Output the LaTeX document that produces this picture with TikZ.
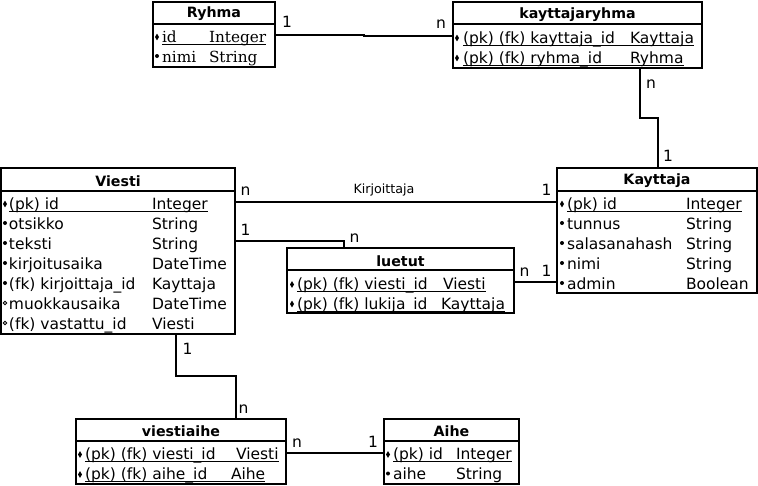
\documentclass[tikz,border=0pt]{standalone}
\usepackage{fontspec}
\setmainfont{DejaVu Sans}
\newfontfamily\rowserif{DejaVu Serif}
\begin{document}
\begin{tikzpicture}[x=1pt,y=-1pt,
  every node/.style={inner sep=0pt,outer sep=0pt},
  ebox/.style={draw,line width=2pt,anchor=north west},
  sep/.style={line width=2pt},
  conn/.style={line width=2pt},
  ul/.style={line width=1pt},
  txt/.style={anchor=base west,font=\fontsize{15.5}{18}\selectfont},
  stxt/.style={anchor=base west,font=\rowserif\fontsize{15.3}{18}\selectfont},
  ttl/.style={anchor=center,font=\bfseries\fontsize{14.2}{16}\selectfont},
  lbl/.style={anchor=center,font=\fontsize{15.5}{18}\selectfont},
  slbl/.style={anchor=center,font=\fontsize{12.7}{15}\selectfont}]
\useasboundingbox (0,0) rectangle (758,485);

\newcommand\mkpk[2]{\fill (#1,#2-5) +(0,-3.4) -- +(2,0) -- +(0,3.4) -- +(-2,0) -- cycle;}
\newcommand\mkdot[2]{\fill (#1,#2-6) circle (2pt);}
\newcommand\mkopen[2]{\draw[line width=0.8pt] (#1,#2-6) circle (1.8pt);}
% id, marker, markx, baseline, namex, name, typex, type
\newcommand\fld[8]{%
  \node[txt] (#1n) at (#5,#4) {#6};
  \node[txt] (#1t) at (#7,#4) {#8};
  #2{#3}{#4}}
\newcommand\sfld[8]{%
  \node[stxt] (#1n) at (#5,#4) {#6};
  \node[stxt] (#1t) at (#7,#4) {#8};
  #2{#3}{#4}}
\newcommand\ulf[1]{\draw[ul] ([yshift=-2pt]#1n.base west) -- ([yshift=-2pt]#1t.base east);}

% Ryhma
\node[ebox,minimum width=122pt,minimum height=65pt] (ryhma) at (153,2) {};
\draw[sep] (153,24) -- (275,24);
\node[ttl] (ryhma-ttl) at (214,14) {Ryhma};
\sfld{ry1}{\mkpk}{157}{42}{162}{id}{209}{Integer}\ulf{ry1}
\sfld{ry2}{\mkdot}{157}{62}{162}{nimi}{209}{String}

% kayttajaryhma
\node[ebox,minimum width=249pt,minimum height=66pt] (kr) at (453,2) {};
\draw[sep] (453,24) -- (702,24);
\node[ttl] (kr-ttl) at (577.5,15) {kayttajaryhma};
\fld{kr1}{\mkpk}{457}{43}{463}{(pk) (fk) kayttaja\_id}{630}{Kayttaja}\ulf{kr1}
\fld{kr2}{\mkpk}{457}{63}{463}{(pk) (fk) ryhma\_id}{630}{Ryhma}\ulf{kr2}

% Viesti
\node[ebox,minimum width=234pt,minimum height=166pt] (viesti) at (1,168) {};
\draw[sep] (1,191) -- (235,191);
\node[ttl] (viesti-ttl) at (118,181.5) {Viesti};
\fld{v1}{\mkpk}{5}{209}{9}{(pk) id}{152}{Integer}\ulf{v1}
\fld{v2}{\mkdot}{5}{229}{9}{otsikko}{152}{String}
\fld{v3}{\mkdot}{5}{249}{9}{teksti}{152}{String}
\fld{v4}{\mkdot}{5}{269}{9}{kirjoitusaika}{152}{DateTime}
\fld{v5}{\mkdot}{5}{289}{9}{(fk) kirjoittaja\_id}{152}{Kayttaja}
\fld{v6}{\mkopen}{5}{309}{9}{muokkausaika}{152}{DateTime}
\fld{v7}{\mkopen}{5}{329}{9}{(fk) vastattu\_id}{152}{Viesti}

% Kayttaja
\node[ebox,minimum width=200pt,minimum height=125pt] (kayttaja) at (557,168) {};
\draw[sep] (557,191) -- (757,191);
\node[ttl] (kayttaja-ttl) at (657,181) {Kayttaja};
\fld{k1}{\mkpk}{562}{209}{567}{(pk) id}{686}{Integer}\ulf{k1}
\fld{k2}{\mkdot}{562}{229}{567}{tunnus}{686}{String}
\fld{k3}{\mkdot}{562}{249}{567}{salasanahash}{686}{String}
\fld{k4}{\mkdot}{562}{269}{567}{nimi}{686}{String}
\fld{k5}{\mkdot}{562}{289}{567}{admin}{686}{Boolean}

% luetut
\node[ebox,minimum width=227pt,minimum height=65pt] (luetut) at (287,248) {};
\draw[sep] (287,270) -- (514,270);
\node[ttl] (luetut-ttl) at (400.5,261) {luetut};
\fld{l1}{\mkpk}{292}{289.5}{297}{(pk) (fk) viesti\_id}{443}{Viesti}\ulf{l1}
\fld{l2}{\mkpk}{292}{309}{297}{(pk) (fk) lukija\_id}{441}{Kayttaja}\ulf{l2}

% viestiaihe
\node[ebox,minimum width=210pt,minimum height=65pt] (va) at (76,419) {};
\draw[sep] (76,441) -- (286,441);
\node[ttl] (va-ttl) at (181,431.5) {viestiaihe};
\fld{va1}{\mkpk}{80}{459.5}{85}{(pk) (fk) viesti\_id}{236}{Viesti}\ulf{va1}
\fld{va2}{\mkpk}{80}{479.5}{85}{(pk) (fk) aihe\_id}{231}{Aihe}\ulf{va2}

% Aihe
\node[ebox,minimum width=135pt,minimum height=65pt] (aihe) at (384,419) {};
\draw[sep] (384,441) -- (519,441);
\node[ttl] (aihe-ttl) at (451.5,431.5) {Aihe};
\fld{a1}{\mkpk}{388}{459.5}{393}{(pk) id}{456}{Integer}\ulf{a1}
\fld{a2}{\mkdot}{388}{479.5}{393}{aihe}{456}{String}

% connectors
\draw[conn] (ryhma.east |- 0,34.5) -- (364,34.5) -- (364,36) -- (kr.west |- 0,36);
\node[lbl] (c1a) at (287,22) {1};
\node[lbl] (c1b) at (441,24) {n};

\draw[conn] (kr.south -| 640,0) -- (640,118) -- (658,118) -- (kayttaja.north -| 658,0);
\node[lbl] (c2a) at (651,84) {n};
\node[lbl] (c2b) at (668,156) {1};

\draw[conn] (viesti.east |- 0,201.5) -- (kayttaja.west |- 0,201.5);
\node[lbl] (c3a) at (245.5,191) {n};
\node[slbl] (c3l) at (384,190) {Kirjoittaja};
\node[lbl] (c3b) at (546.5,190) {1};

\draw[conn] (viesti.east |- 0,241) -- (344,241) -- (luetut.north -| 344,0);
\node[lbl] (c4a) at (245.5,230) {1};
\node[lbl] (c4b) at (354.5,238) {n};

\draw[conn] (luetut.east |- 0,282) -- (kayttaja.west |- 0,282);
\node[lbl] (c5a) at (524.5,272) {n};
\node[lbl] (c5b) at (546.5,271) {1};

\draw[conn] (viesti.south -| 176,0) -- (176,376) -- (236,376) -- (va.north -| 236,0);
\node[lbl] (c6a) at (187.5,349) {1};
\node[lbl] (c6b) at (243.5,409) {n};

\draw[conn] (va.east |- 0,453) -- (aihe.west |- 0,453);
\node[lbl] (c7a) at (297,443) {n};
\node[lbl] (c7b) at (373,441.5) {1};
\end{tikzpicture}
\end{document}
